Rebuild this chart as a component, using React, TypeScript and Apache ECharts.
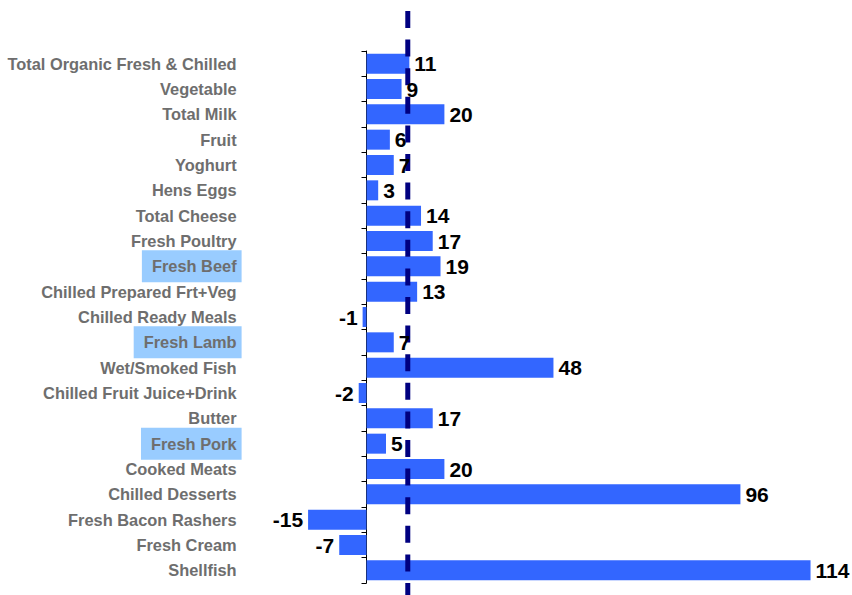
import React, { useEffect, useRef } from "react";
import * as echarts from "echarts";

const categories = [
  "Total Organic Fresh & Chilled",
  "Vegetable",
  "Total Milk",
  "Fruit",
  "Yoghurt",
  "Hens Eggs",
  "Total Cheese",
  "Fresh Poultry",
  "Fresh Beef",
  "Chilled Prepared Frt+Veg",
  "Chilled Ready Meals",
  "Fresh Lamb",
  "Wet/Smoked Fish",
  "Chilled Fruit Juice+Drink",
  "Butter",
  "Fresh Pork",
  "Cooked Meats",
  "Chilled Desserts",
  "Fresh Bacon Rashers",
  "Fresh Cream",
  "Shellfish",
];

const values = [11, 9, 20, 6, 7, 3, 14, 17, 19, 13, -1, 7, 48, -2, 17, 5, 20, 96, -15, -7, 114];

const highlighted = ["Fresh Beef", "Fresh Lamb", "Fresh Pork"];

const referenceLine = [10.6];

const FONT = "'Liberation Sans', Arial, sans-serif";

export default function App() {
  const ref = useRef<HTMLDivElement>(null);

  useEffect(() => {
    if (!ref.current) return;
    const chart = echarts.init(ref.current, null, { renderer: "svg" });
    const k = 3.895;
    const zero = 366.5;
    const xmin = -20;
    const xmax = 120;
    const left = zero + xmin * k;
    const right = 852 - (zero + xmax * k);

    const valueLabel = {
      show: true,
      position: "right",
      distance: 5,
      color: "#000000",
      fontSize: 21,
      fontWeight: "bold",
      fontFamily: FONT,
    };

    const option = {
      animation: false,
      backgroundColor: "#ffffff",
      grid: [
        { left, right, top: 51, bottom: 12, containLabel: false, outerBoundsMode: "none" },
        { left, right, top: 11, bottom: 0, containLabel: false, outerBoundsMode: "none" },
      ],
      xAxis: [
        { gridIndex: 0, type: "value", min: xmin, max: xmax, show: false },
        { gridIndex: 1, type: "value", min: xmin, max: xmax, show: false },
      ],
      yAxis: [
        {
          gridIndex: 0,
          type: "category",
          data: categories,
          inverse: true,
          axisLine: { onZero: true, lineStyle: { color: "#000000", width: 1 } },
          axisTick: { show: true, length: 5, lineStyle: { color: "#000000" } },
          axisLabel: {
            interval: 0,
            margin: 47,
            formatter: (v: string) => (highlighted.includes(v) ? `{hl|${v}}` : `{n|${v}}`),
            rich: {
              n: {
                color: "#6e6e6e",
                fontSize: 16.4,
                fontWeight: "bold",
                fontFamily: FONT,
                padding: [0, 5, 0, 0],
              },
              hl: {
                color: "#6e6e6e",
                fontSize: 16.4,
                fontWeight: "bold",
                fontFamily: FONT,
                backgroundColor: "#99ccff",
                padding: [8, 5, 8, 10],
              },
            },
          },
          splitLine: { show: false },
        },
        { gridIndex: 1, type: "value", min: 0, max: 1, show: false },
      ],
      series: [
        {
          type: "bar",
          xAxisIndex: 0,
          yAxisIndex: 0,
          barWidth: 20,
          barGap: "-100%",
          z: 2,
          itemStyle: { color: "#3366ff" },
          data: values,
        },
        {
          type: "line",
          xAxisIndex: 1,
          yAxisIndex: 1,
          symbol: "none",
          z: 3,
          silent: true,
          lineStyle: { color: "#000080", width: 5, type: [17, 11.6], dashOffset: 5 },
          data: [
            [referenceLine[0], 0],
            [referenceLine[0], 1],
          ],
        },
        {
          type: "bar",
          xAxisIndex: 0,
          yAxisIndex: 0,
          barWidth: 20,
          barGap: "-100%",
          z: 4,
          silent: true,
          itemStyle: { color: "rgba(0,0,0,0)" },
          label: valueLabel,
          data: values.map((v) =>
            v < 0 ? { value: v, label: { position: "left" } } : { value: v }
          ),
        },
      ],
    };
    chart.setOption(option as any);
    return () => chart.dispose();
  }, []);

  return (
    <div
      ref={ref}
      style={{ position: "fixed", left: 0, top: 0, width: 852, height: 595 }}
    />
  );
}
